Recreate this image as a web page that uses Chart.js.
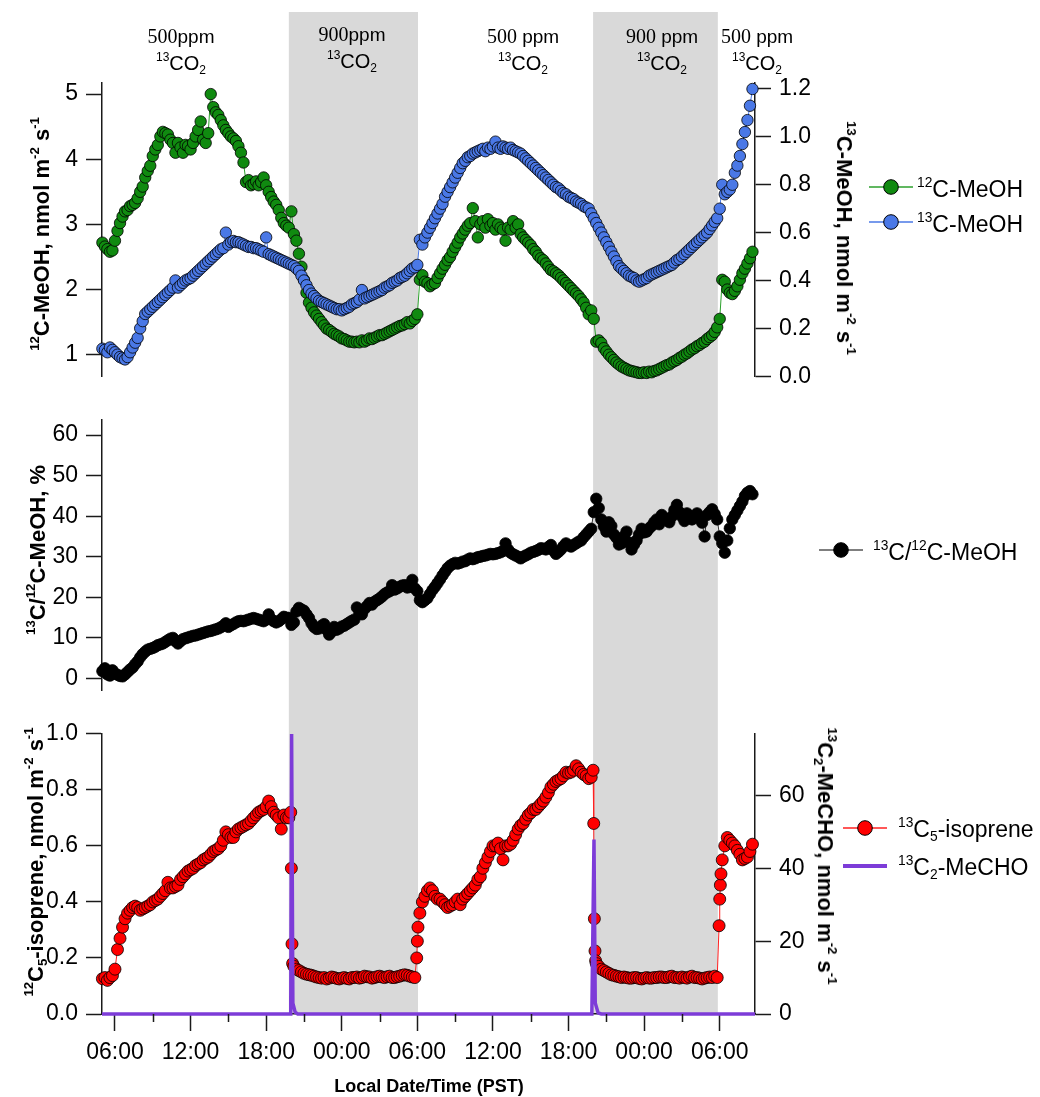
<!DOCTYPE html>
<html>
<head>
<meta charset="utf-8">
<script src="https://cdn.jsdelivr.net/npm/chart.js@4.4.1/dist/chart.umd.min.js"></script>
<style>
html,body{margin:0;padding:0;background:#fff;}
#wrap{position:relative;width:1040px;height:1097px;overflow:hidden;font-family:'Liberation Sans',Arial,Helvetica,sans-serif;color:#000;}
#wrap canvas{position:absolute;left:0;}
.t{position:absolute;white-space:nowrap;line-height:1;}
.ax{font-weight:bold;font-size:22px;}
.rl{transform:translate(-50%,-50%) rotate(-90deg);}
.rr{transform:translate(-50%,-50%) rotate(90deg);}
.sp{font-size:0.6em;position:relative;top:-0.75em;}
.sb{font-size:0.6em;position:relative;top:0.3em;}
.hdr{font-size:19px;text-align:center;transform:translateX(-50%);line-height:26px;}
.hdr .l2{font-size:20px;}
.serif{font-family:'Liberation Serif','Times New Roman',serif;font-size:20px;}
.lg{font-size:23px;transform:translateY(-50%);}
.sym{position:absolute;}
.xt{font-weight:bold;font-size:18px;transform:translate(-50%,-50%);}
</style>
</head>
<body>
<div id="wrap">
<canvas id="c1" width="1040" height="398" style="top:0px;width:1040px;height:398px"></canvas>
<canvas id="c2" width="1040" height="314" style="top:398px;width:1040px;height:314px"></canvas>
<canvas id="c3" width="1040" height="385" style="top:712px;width:1040px;height:385px"></canvas>

<div class="t hdr" style="left:181px;top:23px"><span class="serif">500</span>ppm<br><span class="l2"><span class="sp">13</span>CO<span class="sb">2</span></span></div>
<div class="t hdr" style="left:352px;top:21px"><span class="serif">900</span>ppm<br><span class="l2"><span class="sp">13</span>CO<span class="sb">2</span></span></div>
<div class="t hdr" style="left:523px;top:23px"><span class="serif">500</span> ppm<br><span class="l2"><span class="sp">13</span>CO<span class="sb">2</span></span></div>
<div class="t hdr" style="left:662px;top:23px"><span class="serif">900</span> ppm<br><span class="l2"><span class="sp">13</span>CO<span class="sb">2</span></span></div>
<div class="t hdr" style="left:757px;top:23px"><span class="serif">500</span> ppm<br><span class="l2"><span class="sp">13</span>CO<span class="sb">2</span></span></div>

<div class="t ax rl" style="left:42px;top:234px"><span class="sp">12</span>C-MeOH, nmol m<span class="sp">-2</span> s<span class="sp">-1</span></div>
<div class="t ax rr" style="left:844px;top:238px"><span class="sp">13</span>C-MeOH, nmol m<span class="sp">-2</span> s<span class="sp">-1</span></div>
<div class="t ax rl" style="left:38px;top:550px"><span class="sp">13</span>C/<span class="sp">12</span>C-MeOH, %</div>
<div class="t ax rl" style="left:36px;top:862px"><span class="sp">12</span>C<span class="sb">5</span>-isoprene, nmol m<span class="sp">-2</span> s<span class="sp">-1</span></div>
<div class="t ax rr" style="left:825px;top:856px"><span class="sp">13</span>C<span class="sb">2</span>-MeCHO, nmol m<span class="sp">-2</span> s<span class="sp">-1</span></div>

<svg class="sym" style="left:868px;top:178px" width="46" height="18"><line x1="1" y1="9" x2="45" y2="9" stroke="#2ca02c" stroke-width="1.5"/><circle cx="23" cy="9" r="7.3" fill="#108a10" stroke="#000" stroke-width="1"/></svg>
<div class="t lg" style="left:917px;top:189px"><span class="sp">12</span>C-MeOH</div>
<svg class="sym" style="left:868px;top:213px" width="46" height="18"><line x1="1" y1="9" x2="45" y2="9" stroke="#4a78e6" stroke-width="1.5"/><circle cx="23" cy="9" r="7.3" fill="#4a78e6" stroke="#000" stroke-width="1"/></svg>
<div class="t lg" style="left:917px;top:224px"><span class="sp">13</span>C-MeOH</div>

<svg class="sym" style="left:818px;top:541px" width="46" height="18"><line x1="1" y1="9" x2="45" y2="9" stroke="#555" stroke-width="1.5"/><circle cx="23" cy="9" r="7.3" fill="#000" stroke="#000" stroke-width="1"/></svg>
<div class="t lg" style="left:873px;top:552px"><span class="sp">13</span>C/<span class="sp">12</span>C-MeOH</div>

<svg class="sym" style="left:842px;top:819px" width="46" height="18"><line x1="1" y1="9" x2="45" y2="9" stroke="#ff2020" stroke-width="1.5"/><circle cx="23" cy="9" r="7.3" fill="#ff0000" stroke="#000" stroke-width="1"/></svg>
<div class="t lg" style="left:898px;top:829px"><span class="sp">13</span>C<span class="sb">5</span>-isoprene</div>
<svg class="sym" style="left:842px;top:857px" width="46" height="18"><line x1="1" y1="9" x2="45" y2="9" stroke="#7d3cd8" stroke-width="4"/></svg>
<div class="t lg" style="left:898px;top:867px"><span class="sp">13</span>C<span class="sb">2</span>-MeCHO</div>

<div class="t xt" style="left:429px;top:1086px">Local Date/Time (PST)</div>
</div>

<script>
// ---------------- DATA (hours since midnight of day 1) ----------------
const hours = [
5.0,5.2,5.4,5.6,5.8,6.0,6.2,6.4,6.6,6.8,
7.0,7.2,7.4,7.6,7.8,8.0,8.2,8.4,8.6,8.8,
9.0,9.2,9.4,9.6,9.8,10.0,10.2,10.4,10.6,10.8,
11.0,11.2,11.4,11.6,11.8,12.0,12.2,12.4,12.6,12.8,
13.0,13.2,13.4,13.6,13.8,14.0,14.2,14.4,14.6,14.8,
15.0,15.2,15.4,15.6,15.8,16.0,16.2,16.4,16.6,16.8,
17.0,17.2,17.4,17.6,17.8,18.0,18.2,18.4,18.6,18.8,
19.0,19.2,19.4,19.6,19.8,20.0,20.2,20.4,20.6,20.8,
21.0,21.2,21.4,21.6,21.8,22.0,22.2,22.4,22.6,22.8,
23.0,23.2,23.4,23.6,23.8,24.0,24.2,24.4,24.6,24.8,
25.0,25.2,25.4,25.6,25.8,26.0,26.2,26.4,26.6,26.8,
27.0,27.2,27.4,27.6,27.8,28.0,28.2,28.4,28.6,28.8,
29.0,29.2,29.4,29.6,29.8,30.0,30.2,30.4,30.6,30.8,
31.0,31.2,31.4,31.6,31.8,32.0,32.2,32.4,32.6,32.8,
33.0,33.2,33.4,33.6,33.8,34.0,34.2,34.4,34.6,34.8,
35.0,35.2,35.4,35.6,35.8,36.0,36.2,36.4,36.6,36.8,
37.0,37.2,37.4,37.6,37.8,38.0,38.2,38.4,38.6,38.8,
39.0,39.2,39.4,39.6,39.8,40.0,40.2,40.4,40.6,40.8,
41.0,41.2,41.4,41.6,41.8,42.0,42.2,42.4,42.6,42.8,
43.0,43.2,43.4,43.6,43.8,44.0,44.2,44.4,44.6,44.8,
45.0,45.2,45.4,45.6,45.8,46.0,46.2,46.4,46.6,46.8,
47.0,47.2,47.4,47.6,47.8,48.0,48.2,48.4,48.6,48.8,
49.0,49.2,49.4,49.6,49.8,50.0,50.2,50.4,50.6,50.8,
51.0,51.2,51.4,51.6,51.8,52.0,52.2,52.4,52.6,52.8,
53.0,53.2,53.4,53.6,53.8,54.0,54.2,54.4,54.6,54.8,
55.0,55.2,55.4,55.6,55.8,56.0,56.2,56.4,56.6];

const meoh12 = [
2.72,2.66,2.62,2.58,2.6,2.75,2.9,3.02,3.12,3.2,
3.22,3.28,3.3,3.33,3.4,3.5,3.58,3.72,3.82,3.9,
4.05,4.15,4.22,4.35,4.42,4.4,4.38,4.3,4.25,4.1,
4.25,4.18,4.1,4.22,4.2,4.15,4.25,4.35,4.45,4.58,
4.3,4.25,4.4,5.0,4.8,4.72,4.68,4.6,4.52,4.45,
4.4,4.35,4.32,4.28,4.2,4.1,3.95,3.65,3.68,3.6,
3.62,3.66,3.6,3.65,3.72,3.6,3.5,3.42,3.35,3.3,
3.22,3.1,3.02,2.98,2.95,3.2,2.85,2.75,2.55,2.35,
2.15,1.95,1.8,1.72,1.65,1.6,1.55,1.5,1.45,1.4,
1.38,1.35,1.32,1.3,1.28,1.25,1.24,1.22,1.2,1.2,
1.19,1.2,1.19,1.22,1.2,1.22,1.25,1.24,1.26,1.28,
1.3,1.3,1.32,1.34,1.36,1.38,1.4,1.42,1.44,1.45,
1.47,1.5,1.48,1.52,1.55,1.62,2.15,2.22,2.12,2.1,
2.05,2.08,2.1,2.18,2.25,2.32,2.38,2.45,2.5,2.58,
2.65,2.72,2.8,2.86,2.92,2.98,3.02,3.25,3.05,2.8,
3.0,3.05,2.95,3.08,2.98,3.02,2.92,3.0,2.95,2.92,
2.75,2.95,2.92,3.05,2.95,3.0,2.85,2.8,2.76,2.72,
2.68,2.62,2.58,2.52,2.48,2.45,2.4,2.35,2.3,2.28,
2.25,2.22,2.18,2.14,2.1,2.06,2.02,1.98,1.94,1.9,
1.85,1.8,1.72,1.62,1.68,1.55,1.2,1.22,1.18,1.1,
1.05,1.0,0.96,0.92,0.88,0.85,0.82,0.8,0.78,0.76,
0.75,0.74,0.73,0.72,0.72,0.73,0.72,0.74,0.73,0.75,
0.76,0.78,0.8,0.82,0.84,0.85,0.88,0.9,0.92,0.95,
0.97,1.0,1.02,1.05,1.08,1.1,1.13,1.15,1.18,1.2,
1.24,1.27,1.3,1.35,1.42,1.55,2.15,2.12,2.0,1.95,
1.93,1.98,2.05,2.15,2.25,2.32,2.4,2.48,2.58];

const meoh13 = [
0.115,0.11,0.1,0.12,0.11,0.1,0.09,0.08,0.075,0.07,
0.08,0.1,0.12,0.14,0.16,0.2,0.23,0.26,0.27,0.28,
0.29,0.3,0.31,0.32,0.33,0.34,0.35,0.36,0.37,0.4,
0.37,0.38,0.39,0.4,0.405,0.41,0.42,0.43,0.44,0.45,
0.46,0.47,0.48,0.49,0.5,0.51,0.52,0.53,0.535,0.6,
0.55,0.56,0.565,0.56,0.56,0.555,0.55,0.545,0.54,0.54,
0.535,0.535,0.53,0.525,0.52,0.58,0.51,0.505,0.5,0.495,
0.49,0.485,0.48,0.475,0.47,0.465,0.46,0.45,0.44,0.42,
0.4,0.38,0.36,0.345,0.335,0.325,0.315,0.31,0.305,0.3,
0.295,0.29,0.285,0.28,0.28,0.275,0.28,0.285,0.29,0.3,
0.305,0.31,0.32,0.36,0.325,0.33,0.335,0.34,0.345,0.35,
0.355,0.36,0.37,0.375,0.38,0.39,0.395,0.4,0.41,0.415,
0.42,0.43,0.44,0.45,0.455,0.465,0.57,0.55,0.58,0.6,
0.62,0.64,0.66,0.68,0.7,0.72,0.75,0.77,0.79,0.81,
0.83,0.85,0.87,0.89,0.9,0.915,0.92,0.93,0.935,0.94,
0.945,0.95,0.94,0.955,0.95,0.96,0.98,0.955,0.95,0.96,
0.955,0.95,0.955,0.945,0.94,0.935,0.93,0.92,0.91,0.9,
0.89,0.88,0.87,0.86,0.85,0.84,0.83,0.82,0.81,0.8,
0.79,0.785,0.775,0.765,0.76,0.75,0.745,0.74,0.73,0.725,
0.72,0.71,0.705,0.7,0.68,0.66,0.64,0.62,0.6,0.58,
0.56,0.54,0.52,0.5,0.48,0.46,0.45,0.44,0.43,0.42,
0.415,0.41,0.4,0.395,0.4,0.405,0.41,0.42,0.425,0.43,
0.435,0.44,0.445,0.45,0.455,0.46,0.465,0.475,0.485,0.49,
0.5,0.51,0.52,0.53,0.54,0.55,0.56,0.57,0.58,0.59,
0.6,0.615,0.63,0.645,0.66,0.7,0.8,0.76,0.77,0.78,
0.8,0.85,0.88,0.92,0.97,1.02,1.07,1.13,1.2];

const ratio = [
1.8,2.5,1.0,0.7,2.0,1.2,0.9,0.6,0.5,1.0,
1.6,2.2,2.7,3.5,4.2,5.2,6.0,6.6,7.1,7.3,
7.5,7.8,8.2,8.4,8.6,9.0,9.4,9.8,10.0,9.2,
8.6,9.2,9.7,9.9,10.1,10.3,10.5,10.6,10.8,11.0,
11.2,11.4,11.6,11.7,11.9,12.1,12.3,12.6,13.0,13.6,
12.7,13.1,13.4,13.8,14.1,14.2,14.1,14.3,14.5,14.7,
14.9,14.7,14.5,14.3,14.1,14.5,15.8,14.6,14.1,13.8,
14.1,14.6,15.2,15.0,14.9,13.2,13.8,16.5,17.4,17.0,
16.7,15.8,14.9,13.6,12.7,12.2,12.3,13.0,13.4,12.0,
10.8,11.5,12.7,12.0,12.3,12.8,13.0,13.4,13.8,14.2,
14.5,17.5,16.0,15.8,17.1,17.8,18.6,18.2,18.9,19.3,
19.7,20.2,20.8,21.2,21.5,23.0,21.9,22.2,22.6,22.9,
23.0,22.4,22.6,24.3,22.2,21.5,19.3,18.8,19.3,19.8,
20.8,21.8,22.6,23.5,24.4,25.4,26.3,27.2,27.8,28.2,
28.5,28.3,28.5,28.8,28.9,29.3,29.6,29.4,29.6,29.9,
30.0,30.2,30.3,30.5,30.7,30.6,30.7,30.9,31.1,31.4,
33.3,31.8,31.0,30.6,30.3,30.0,29.6,30.0,30.3,30.6,
31.0,31.2,31.4,31.7,32.1,32.0,31.8,32.4,32.9,31.5,
30.7,31.2,31.8,32.6,33.3,32.8,32.5,32.9,33.3,33.7,
34.0,34.8,35.5,36.2,36.9,41.0,44.3,42.0,39.2,37.5,
36.2,38.5,37.6,35.5,34.7,33.0,33.3,35.0,36.2,33.5,
31.8,33.0,34.0,35.5,36.9,36.0,36.2,37.0,37.6,38.5,
39.2,38.0,40.3,39.5,39.2,38.5,39.9,41.5,42.8,41.0,
39.9,38.8,40.7,40.0,39.2,40.0,40.7,39.5,38.4,35.0,
40.3,41.0,41.7,40.5,39.2,35.0,33.3,31.0,34.0,37.0,
39.2,40.3,41.4,42.5,43.6,45.0,45.8,46.2,45.4];

const isoprene = [
0.126,0.13,0.12,0.13,0.137,0.16,0.23,0.27,0.31,0.34,
0.36,0.37,0.38,0.385,0.38,0.37,0.375,0.38,0.385,0.39,
0.4,0.405,0.41,0.42,0.43,0.44,0.47,0.45,0.45,0.455,
0.46,0.48,0.49,0.5,0.51,0.515,0.52,0.53,0.535,0.54,
0.55,0.555,0.56,0.57,0.58,0.585,0.59,0.6,0.62,0.65,
0.64,0.63,0.63,0.65,0.66,0.665,0.67,0.675,0.68,0.69,
0.7,0.71,0.72,0.725,0.73,0.74,0.76,0.74,0.72,0.71,
0.7,0.66,0.71,0.7,0.7,0.52,0.17,0.16,0.155,0.15,
0.145,0.142,0.14,0.138,0.135,0.132,0.13,0.128,0.13,0.125,
0.128,0.132,0.13,0.127,0.125,0.128,0.13,0.127,0.125,0.13,
0.13,0.132,0.128,0.13,0.135,0.133,0.132,0.128,0.13,0.133,
0.135,0.132,0.13,0.133,0.135,0.13,0.13,0.133,0.135,0.138,
0.14,0.138,0.135,0.132,0.13,0.26,0.36,0.4,0.42,0.44,
0.45,0.44,0.42,0.41,0.41,0.4,0.39,0.38,0.385,0.39,
0.4,0.41,0.39,0.41,0.42,0.43,0.44,0.45,0.46,0.48,
0.49,0.52,0.54,0.56,0.58,0.6,0.6,0.61,0.59,0.55,
0.6,0.6,0.606,0.62,0.64,0.66,0.673,0.68,0.695,0.71,
0.718,0.73,0.73,0.74,0.75,0.76,0.774,0.79,0.81,0.82,
0.83,0.835,0.84,0.85,0.863,0.86,0.863,0.87,0.886,0.875,
0.863,0.855,0.85,0.84,0.845,0.68,0.18,0.17,0.16,0.155,
0.15,0.145,0.14,0.138,0.135,0.133,0.13,0.132,0.13,0.128,
0.128,0.13,0.13,0.127,0.125,0.128,0.13,0.128,0.128,0.13,
0.13,0.132,0.132,0.13,0.13,0.133,0.135,0.13,0.13,0.128,
0.132,0.13,0.128,0.132,0.135,0.13,0.13,0.128,0.125,0.128,
0.13,0.132,0.13,0.135,0.13,0.41,0.55,0.6,0.63,0.62,
0.61,0.6,0.584,0.57,0.55,0.555,0.56,0.58,0.606];

const isoExtraHours  = [19.95,20.05,20.1,29.95,30.05,43.95,44.05,44.1,44.15,53.95,54.05,54.1];
const isoExtraValues = [0.72,0.25,0.18,0.2,0.31,0.87,0.34,0.225,0.19,0.315,0.46,0.5];

const mechoHours  = [4.97,19.95,20.02,20.12,20.3,20.5,43.85,44.02,44.12,44.35,44.6,56.8];
const mechoValues = [0,0,77,3,0.5,0,0,48,3,0.3,0,0];

const nightStart = [19.8, 43.95];
const nightEnd   = [30.05, 53.85];

const X_MIN = 4.97, X_MAX = 56.8;
const xTickHours  = [6,12,18,24,30,36,42,48,54];
const xTickLabels = ['06:00','12:00','18:00','00:00','06:00','12:00','18:00','00:00','06:00'];
const xMinorHours = [9,15,21,27,33,39,45,51];

const p1LeftTicks  = [1,2,3,4,5];
const p1RightTicks = [0,0.2,0.4,0.6,0.8,1.0,1.2];
const p2Ticks      = [0,10,20,30,40,50,60];
const p3LeftTicks  = [0,0.2,0.4,0.6,0.8,1.0];
const p3RightTicks = [0,20,40,60];

// ---------------- CHARTS ----------------
Chart.defaults.font.family = "'Liberation Sans', Arial, Helvetica, sans-serif";
Chart.defaults.font.size = 23;
Chart.defaults.color = '#000';
const AX = '#1a1a1a';

const toXY = (xs, ys) => xs.map((x, i) => ({ x: x, y: ys[i] }));

function yAxis(pos, min, max, ticks, digits, width) {
  return {
    type: 'linear', position: pos, min: min, max: max,
    afterBuildTicks: s => { s.ticks = ticks.map(v => ({ value: v })); },
    afterFit: s => { s.width = width; },
    grid: { drawOnChartArea: false, drawTicks: true, tickLength: 16, tickColor: AX, tickWidth: 1.5 },
    border: { display: true, color: AX, width: 1.5 },
    ticks: { padding: 8, autoSkip: false, callback: v => Number(v).toFixed(digits) }
  };
}
function xAxis(show) {
  return {
    type: 'linear', position: 'bottom', min: X_MIN, max: X_MAX, display: show,
    afterBuildTicks: s => { s.ticks = xTickHours.map(v => ({ value: v })); },
    afterFit: s => { if (show) s.height = 83; },
    grid: { drawOnChartArea: false, drawTicks: true, tickLength: 17, tickColor: AX, tickWidth: 1.5 },
    border: { display: true, color: AX, width: 1.5 },
    ticks: { padding: 8, autoSkip: false, maxRotation: 0, minRotation: 0, callback: (v, i) => xTickLabels[i] }
  };
}
function ptsSet(label, data, yID, fill, line, r, order) {
  return { label: label, data: data, yAxisID: yID, xAxisID: 'x', showLine: true,
    borderColor: line, borderWidth: 1, backgroundColor: fill,
    pointBackgroundColor: fill, pointBorderColor: '#000', pointBorderWidth: 0.8,
    pointRadius: r, pointHoverRadius: r, clip: 10, order: order };
}

const bands = {
  id: 'bands',
  beforeDraw(chart, args, o) {
    const x = chart.scales.x, ca = chart.chartArea, ctx = chart.ctx;
    const top = o.top || 0;
    const bottom = o.toArea ? ca.bottom : chart.height;
    ctx.save();
    ctx.fillStyle = '#d9d9d9';
    nightStart.forEach((s, i) => {
      const a = x.getPixelForValue(s), b = x.getPixelForValue(nightEnd[i]);
      ctx.fillRect(a, top, b - a, bottom - top);
    });
    ctx.restore();
  }
};
const minorTicks = {
  id: 'minorTicks',
  afterDraw(chart) {
    const x = chart.scales.x, y0 = chart.chartArea.bottom, ctx = chart.ctx;
    ctx.save();
    ctx.strokeStyle = AX; ctx.lineWidth = 1.5;
    ctx.beginPath();
    xMinorHours.forEach(h => { const p = Math.round(x.getPixelForValue(h)) + 0.5; ctx.moveTo(p, y0); ctx.lineTo(p, y0 + 8); });
    ctx.stroke();
    ctx.restore();
  }
};
function opts(scales, pad, bandOpt) {
  return { responsive: false, animation: false, events: [], devicePixelRatio: 1,
    layout: { padding: pad }, scales: scales,
    plugins: { legend: { display: false }, tooltip: { enabled: false }, bands: bandOpt } };
}

// Panel 1: MeOH
new Chart(document.getElementById('c1'), {
  type: 'scatter',
  data: { datasets: [
    ptsSet('13C-MeOH', toXY(hours, meoh13), 'yR', '#4a78e6', '#4a78e6', 5.7, 0),
    ptsSet('12C-MeOH', toXY(hours, meoh12), 'yL', '#108a10', '#2ca02c', 5.7, 1)
  ] },
  options: opts({
    x: xAxis(false),
    yL: yAxis('left', 0.67, 5.17, p1LeftTicks, 0, 102),
    yR: yAxis('right', 0, 1.225, p1RightTicks, 1, 285)
  }, { top: 83, bottom: 10, left: 0, right: 0 }, { top: 12, toArea: false }),
  plugins: [bands]
});

// Panel 2: ratio
new Chart(document.getElementById('c2'), {
  type: 'scatter',
  data: { datasets: [
    ptsSet('13C/12C-MeOH', toXY(hours, ratio), 'y', '#000000', '#333333', 5.7, 0)
  ] },
  options: opts({
    x: xAxis(false),
    y: yAxis('left', -2.9, 63.76, p2Ticks, 0, 102)
  }, { top: 11, bottom: 2, left: 0, right: 285 }, { top: 0, toArea: false }),
  plugins: [bands]
});

// Panel 3: isoprene + MeCHO
const isoPts = toXY(hours, isoprene).concat(toXY(isoExtraHours, isoExtraValues)).sort((a, b) => a.x - b.x);
new Chart(document.getElementById('c3'), {
  type: 'scatter',
  data: { datasets: [
    { label: '13C2-MeCHO', data: toXY(mechoHours, mechoValues), yAxisID: 'yR', xAxisID: 'x', showLine: true,
      borderColor: '#7d3cd8', borderWidth: 3.5, pointRadius: 0, pointHoverRadius: 0,
      clip: { left: 0, right: 0, top: 0, bottom: 4 }, order: 0 },
    ptsSet('13C5-isoprene', isoPts, 'yL', '#ff0000', '#ff2020', 6.0, 1)
  ] },
  options: opts({
    x: xAxis(true),
    yL: yAxis('left', 0, 1.0, p3LeftTicks, 1, 102),
    yR: yAxis('right', 0, 77.07, p3RightTicks, 0, 285)
  }, { top: 4, bottom: 0, left: 0, right: 0 }, { top: 0, toArea: true }),
  plugins: [bands, minorTicks]
});
</script>
</body>
</html>
